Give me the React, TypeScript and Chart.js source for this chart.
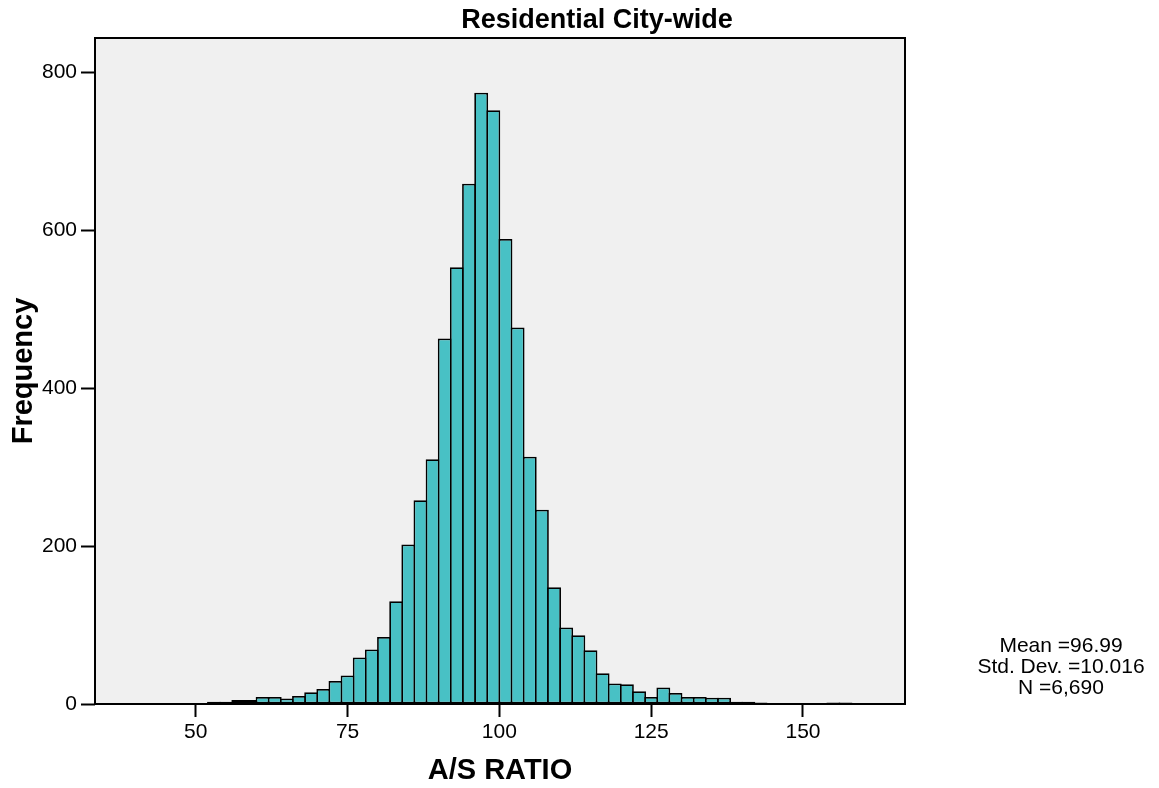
import React, { useEffect, useRef } from "react";
import { Chart, registerables } from "chart.js";

Chart.register(...registerables);

// Histogram bins (lower edge of each 2-unit bin) and their frequencies
const binStarts = [
  48, 50, 52, 54, 56, 58, 60, 62, 64, 66, 68, 70, 72, 74, 76, 78,
  80, 82, 84, 86, 88, 90, 92, 94, 96, 98, 100, 102, 104, 106, 108, 110,
  112, 114, 116, 118, 120, 122, 124, 126, 128, 130, 132, 134, 136, 138,
  140, 142, 144, 146, 148, 150, 152, 154, 156, 158,
];
const frequencies = [
  1, 1, 3, 3, 5, 5, 9, 9, 7, 10, 15, 19, 29, 36, 59, 69,
  85, 130, 202, 258, 310, 463, 553, 659, 774, 752, 589, 477, 313, 246, 148, 97,
  87, 68, 39, 26, 25, 16, 9, 21, 14, 9, 9, 8, 8, 3,
  3, 2, 0, 1, 1, 0, 0, 2, 2, 1,
];
const binWidth = 2;

const xTickValues = [50, 75, 100, 125, 150];
const yTickValues = [0, 200, 400, 600, 800];

const chartTitle = "Residential City-wide";
const xAxisTitle = "A/S RATIO";
const yAxisTitle = "Frequency";
const statsLines = ["Mean =96.99", "Std. Dev. =10.016", "N =6,690"];

const FONT = "'Liberation Sans', Arial, Helvetica, sans-serif";

const decorPlugin = {
  id: "decor",
  beforeDraw(chart: any) {
    const { ctx, chartArea: a } = chart;
    ctx.save();
    ctx.fillStyle = "#ffffff";
    ctx.fillRect(0, 0, chart.width, chart.height);
    ctx.fillStyle = "#f0f0f0";
    ctx.fillRect(a.left, a.top, a.right - a.left, a.bottom - a.top);
    ctx.restore();
  },
  afterDatasetsDraw(chart: any) {
    const { ctx, chartArea: a } = chart;
    ctx.save();
    ctx.strokeStyle = "#000";
    ctx.lineWidth = 2;
    ctx.strokeRect(a.left, a.top, a.right - a.left, a.bottom - a.top);
    ctx.restore();
  },
  afterDraw(chart: any) {
    const { ctx } = chart;
    ctx.save();
    ctx.fillStyle = "#000";
    ctx.textAlign = "center";
    ctx.textBaseline = "middle";
    ctx.font = `bold 27px ${FONT}`;
    ctx.fillText(chartTitle, 597, 21);
    ctx.font = `21px ${FONT}`;
    statsLines.forEach((line, i) => {
      ctx.fillText(line, 1061, 646 + i * 21);
    });
    ctx.restore();
  },
};

export default function App() {
  const canvasRef = useRef<HTMLCanvasElement | null>(null);

  useEffect(() => {
    document.body.style.margin = "0";
    const canvas = canvasRef.current;
    if (!canvas) return;
    Chart.defaults.font.family = FONT;
    const chart = new Chart(canvas, {
      type: "bar",
      data: {
        datasets: [
          {
            label: yAxisTitle,
            data: binStarts.map((s, i) => ({ x: s + binWidth / 2, y: frequencies[i] })),
            backgroundColor: "#48c1c5",
            borderColor: "#000000",
            borderWidth: 1.75,
            borderSkipped: false,
            barPercentage: 1.144,
            categoryPercentage: 1,
          } as any,
        ],
      },
      options: {
        responsive: false,
        animation: false,
        layout: { padding: { left: 0, right: 254, top: 38, bottom: 0 } },
        plugins: {
          legend: { display: false },
          tooltip: { enabled: false },
          title: { display: false },
        },
        scales: {
          x: {
            type: "linear",
            offset: false,
            min: 33.4,
            max: 166.8,
            afterBuildTicks: (s: any) => {
              s.ticks = xTickValues.map((v) => ({ value: v }));
            },
            afterFit: (s: any) => {
              s.height = 84;
            },
            grid: {
              display: true,
              offset: false,
              drawOnChartArea: false,
              drawTicks: true,
              tickLength: 13,
              tickWidth: 2,
              tickColor: "#000",
              color: "#000",
            },
            border: { display: false },
            ticks: {
              color: "#000",
              font: { size: 21 },
              padding: 3,
              maxRotation: 0,
              autoSkip: false,
            },
            title: {
              display: true,
              text: xAxisTitle,
              color: "#000",
              font: { size: 29, weight: "bold" },
              padding: { top: 0, bottom: 0 },
            },
          },
          y: {
            type: "linear",
            min: 0,
            max: 843.5,
            afterBuildTicks: (s: any) => {
              s.ticks = yTickValues.map((v) => ({ value: v }));
            },
            afterFit: (s: any) => {
              s.width = 95;
            },
            grid: {
              display: true,
              drawOnChartArea: false,
              drawTicks: true,
              tickLength: 14,
              tickWidth: 2,
              tickColor: "#000",
              color: "#000",
            },
            border: { display: false },
            ticks: {
              color: "#000",
              font: { size: 21 },
              padding: 4,
              autoSkip: false,
            },
            title: {
              display: true,
              text: yAxisTitle,
              color: "#000",
              font: { size: 29, weight: "bold" },
              padding: { top: 7, bottom: 0 },
            },
          },
        },
      } as any,
      plugins: [decorPlugin],
    });
    return () => chart.destroy();
  }, []);

  return (
    <div style={{ width: 1159, height: 788 }}>
      <canvas ref={canvasRef} width={1159} height={788} style={{ display: "block" }} />
    </div>
  );
}
